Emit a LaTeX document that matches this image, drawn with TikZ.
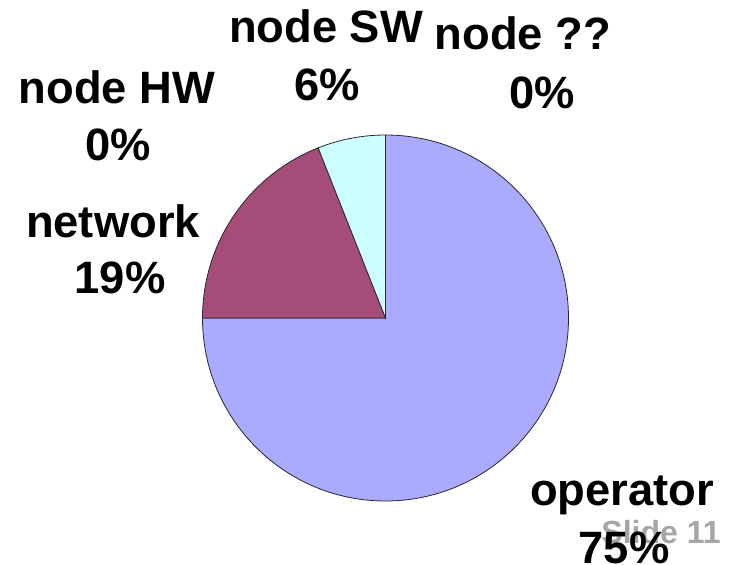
\documentclass[tikz,border=0pt]{standalone}
\usepackage{fontspec}
\setmainfont{Liberation Sans}
\usepackage{xcolor}
\usetikzlibrary{calc}

\definecolor{opcolor}{RGB}{170,170,255}
\definecolor{netcolor}{RGB}{166,76,121}
\definecolor{swcolor}{RGB}{204,255,255}
\definecolor{slidegray}{RGB}{166,166,166}

\tikzset{
  lbl/.style={anchor=base, inner sep=0.75pt, font=\fontsize{34}{40}\selectfont\bfseries},
  slice/.style={draw={rgb,255:red,40;green,40;blue,40}, line width=0.6pt}
}

\begin{document}
\begin{tikzpicture}[x=0.75pt,y=0.75pt,yscale=-1,xscale=1]
\path (0,0) rectangle (736,564); %set diagram size

\coordinate (c) at (385.5,318);
%Pie slice: operator
\draw [slice, fill=opcolor] (c) -- ++(-90:183) arc [start angle=-90, end angle=180, radius=183] -- cycle ;
%Pie slice: network
\draw [slice, fill=netcolor] (c) -- ++(180:183) arc [start angle=180, end angle=248.4, radius=183] -- cycle ;
%Pie slice: node SW
\draw [slice, fill=swcolor] (c) -- ++(248.4:183) arc [start angle=248.4, end angle=270, radius=183] -- cycle ;

% Text Node
\draw (326,42) node [lbl] (sw) {node SW};
% Text Node
\draw (327,100) node [lbl] (swp) {6\%};
% Text Node
\draw (523,50) node [lbl] (unk) {node ??};
% Text Node
\draw (542,108) node [lbl] (unkp) {0\%};
% Text Node
\draw (117,103) node [lbl] (hw) {node HW};
% Text Node
\draw (118,160) node [lbl] (hwp) {0\%};
% Text Node
\draw (113,237) node [lbl] (net) {network};
% Text Node
\draw (120,293) node [lbl] (netp) {19\%};
% Text Node
\draw (661,543) node [anchor=base, inner sep=0.75pt, text=slidegray, font=\fontsize{24}{29}\selectfont\bfseries] (slide) {Slide 11};
% Text Node
\draw (622,505) node [lbl] (op) {operator};
% Text Node
\draw (624,563) node [lbl] (opp) {75\%};

\end{tikzpicture}
\end{document}
